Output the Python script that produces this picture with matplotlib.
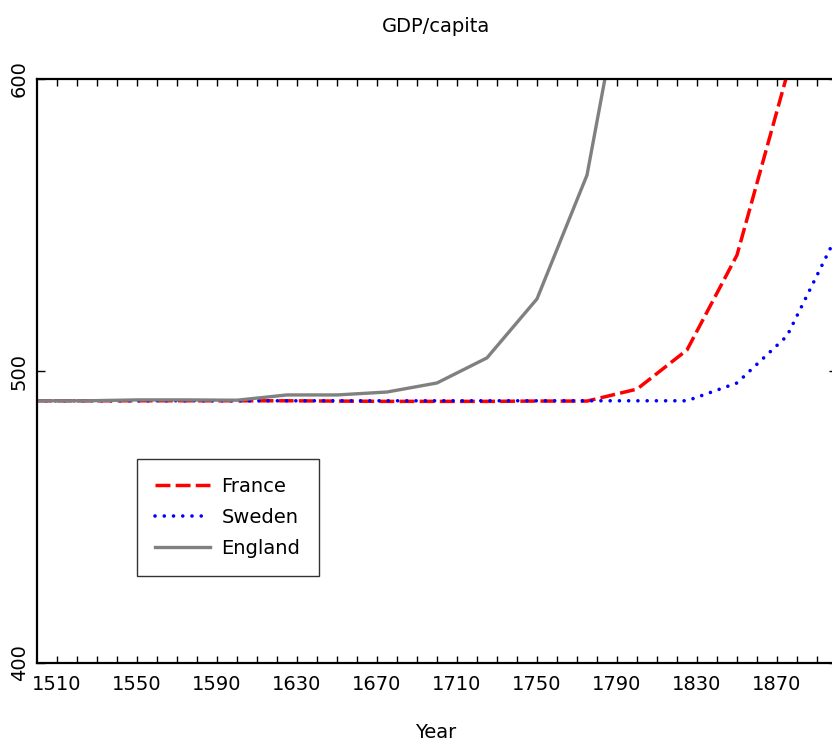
import matplotlib
matplotlib.use("Agg")
import matplotlib.pyplot as plt


# Data (GDP per capita, 25-year steps)
years = [1500, 1525, 1550, 1575, 1600, 1625, 1650, 1675, 1700, 1725, 1750, 1775, 1800, 1825, 1850, 1875, 1900]

england_years = years[:13]
england = [489.8, 489.8, 490.1, 490.1, 490.0, 491.8, 491.8, 492.8, 495.9, 504.5, 524.7, 567.1, 659.0]

france_years = years[:16]
france = [489.8, 489.8, 489.8, 489.8, 489.8, 489.8, 489.7, 489.6, 489.6, 489.6, 489.7, 489.7, 493.8, 507.2, 539.7, 601.4]

sweden_years = years
sweden = [489.8, 489.8, 489.8, 489.8, 489.8, 489.8, 489.8, 489.8, 489.8, 489.8, 489.8, 489.8, 489.8, 489.8, 495.9, 512.0, 546.6]

tick_years = list(range(1510, 1900, 40))
minor_years = list(range(1510, 1900, 10))
y_ticks = [400, 500, 600]


def main() -> None:
    plt.rcParams['font.family'] = ['DejaVu Sans']
    fs = 14

    fig = plt.figure(figsize=(8.32, 7.44), dpi=100)
    # axes runs a few pixels past the right edge, as in the reference
    ax = fig.add_axes([37 / 832, 1 - 663 / 744, 800 / 832, 584 / 744])

    ax.plot(france_years, france, color='red', lw=2.5, label='France',
            linestyle=(0, (4.3, 1.5)), dash_capstyle='butt')
    ax.plot(sweden_years, sweden, color='blue', lw=2.6, label='Sweden',
            linestyle=(0, (0.01, 2.55)), dash_capstyle='round')
    ax.plot(england_years, england, color='#808080', lw=2.4, label='England')

    ax.set_xlim(1500, 1900)
    ax.set_ylim(400, 600)

    ax.set_xticks(tick_years)
    ax.set_xticks(minor_years, minor=True)
    ax.set_yticks(y_ticks)
    ax.tick_params(axis='x', which='both', direction='in', length=5, width=1,
                   top=True, labelsize=fs, pad=9)
    ax.tick_params(axis='y', direction='in', length=6, width=1, right=True,
                   labelsize=fs, pad=6, labelrotation=90)
    for lab in ax.get_yticklabels():
        lab.set_va('center')

    for sp in ax.spines.values():
        sp.set_linewidth(1.6)

    fig.text(436 / 832, 1 - 32 / 744, 'GDP/capita', ha='center', va='baseline', fontsize=fs)
    fig.text(436 / 832, 1 - 738 / 744, 'Year', ha='center', va='baseline', fontsize=fs)

    leg = ax.legend(loc='lower left', bbox_to_anchor=(0.125, 0.149), borderaxespad=0,
                    fancybox=False, fontsize=fs, handlelength=2.8, handletextpad=0.6,
                    borderpad=0.95, labelspacing=0.6)
    leg.get_frame().set_edgecolor('black')
    leg.get_frame().set_linewidth(1.0)

    fig.savefig('out.png', dpi=100)


if __name__ == '__main__':
    main()
